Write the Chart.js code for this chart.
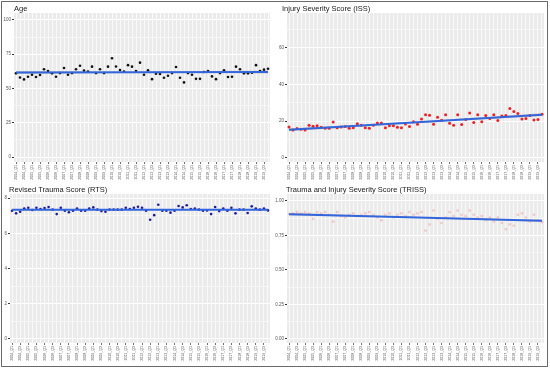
<!DOCTYPE html>
<html>
<head>
<meta charset="utf-8">
<script src="https://cdn.jsdelivr.net/npm/chart.js@4.4.1/dist/chart.umd.min.js"></script>
<style>
  body { margin: 0; background: #fff; }
  #wrap { position: relative; width: 550px; height: 369px; }
  #frame { position: absolute; left: 1px; top: 1px; width: 545px; height: 364px; border: 1.5px solid #6a6a6a; }
  .panel { position: absolute; }
</style>
</head>
<body>
<div id="wrap">
  <div class="panel" style="left:0;top:0;width:275px;height:185px"><canvas id="ageChart"></canvas></div>
  <div class="panel" style="left:275px;top:0;width:275px;height:185px"><canvas id="issChart"></canvas></div>
  <div class="panel" style="left:0;top:185px;width:275px;height:184px"><canvas id="rtsChart"></canvas></div>
  <div class="panel" style="left:275px;top:185px;width:275px;height:184px"><canvas id="trissChart"></canvas></div>
  <div id="frame"></div>
</div>
<script>
// quarters shown on the x axis (every other one is labelled)
const quarters = [
  '2004_Q1','2004_Q2','2004_Q3','2004_Q4','2005_Q1','2005_Q2','2005_Q3','2005_Q4',
  '2006_Q1','2006_Q2','2006_Q3','2006_Q4','2007_Q1','2007_Q2','2007_Q3','2007_Q4',
  '2008_Q1','2008_Q2','2008_Q3','2008_Q4','2009_Q1','2009_Q2','2009_Q3','2009_Q4',
  '2010_Q1','2010_Q2','2010_Q3','2010_Q4','2011_Q1','2011_Q2','2011_Q3','2011_Q4',
  '2012_Q1','2012_Q2','2012_Q3','2012_Q4','2013_Q1','2013_Q2','2013_Q3','2013_Q4',
  '2014_Q1','2014_Q2','2014_Q3','2014_Q4','2015_Q1','2015_Q2','2015_Q3','2015_Q4',
  '2016_Q1','2016_Q2','2016_Q3','2016_Q4','2017_Q1','2017_Q2','2017_Q3','2017_Q4',
  '2018_Q1','2018_Q2','2018_Q3','2018_Q4','2019_Q1','2019_Q2','2019_Q3','2019_Q4'
];

const ageValues = [
  61.0, 58.0, 56.6, 58.5, 60.0, 58.3, 59.8, 64.0, 62.7, 61.0, 58.5, 61.2, 64.9, 60.0, 61.2, 64.0,
  66.6, 63.0, 62.4, 65.9, 61.2, 64.0, 61.2, 65.9, 72.0, 66.0, 63.4, 62.4, 67.0, 65.9, 62.7, 68.8,
  60.0, 63.2, 56.8, 60.7, 60.5, 57.8, 59.3, 61.2, 65.6, 57.8, 54.4, 61.2, 60.0, 57.0, 57.0, 62.0,
  62.7, 58.8, 56.8, 61.2, 63.2, 58.3, 58.5, 65.9, 64.0, 61.0, 61.0, 61.5, 67.0, 62.7, 63.7, 64.4
];
const issValues = [
  16.9, 15.3, 16.0, 15.6, 15.3, 17.8, 17.3, 17.6, 16.8, 16.2, 16.2, 19.6, 16.5, 16.9, 17.2, 16.2,
  16.4, 18.7, 17.8, 16.5, 16.2, 17.8, 19.1, 19.1, 16.5, 17.5, 17.5, 16.7, 16.5, 18.5, 17.1, 19.8,
  18.4, 21.3, 23.5, 23.3, 18.4, 22.2, 20.5, 23.6, 18.9, 17.8, 23.6, 18.2, 21.0, 24.5, 19.3, 23.5,
  19.8, 23.1, 21.5, 23.5, 20.4, 22.9, 23.1, 26.9, 25.3, 24.2, 21.3, 21.5, 23.1, 20.7, 20.9, 23.8
];
const rtsValues = [
  7.28, 7.13, 7.22, 7.41, 7.45, 7.32, 7.45, 7.38, 7.43, 7.49, 7.34, 7.09, 7.45, 7.28, 7.19, 7.28,
  7.40, 7.28, 7.28, 7.40, 7.47, 7.34, 7.26, 7.22, 7.34, 7.34, 7.34, 7.34, 7.45, 7.38, 7.45, 7.51,
  7.45, 7.28, 6.77, 7.03, 7.62, 7.28, 7.28, 7.17, 7.28, 7.55, 7.47, 7.59, 7.38, 7.41, 7.34, 7.28,
  7.30, 7.09, 7.49, 7.26, 7.41, 7.28, 7.45, 7.13, 7.34, 7.34, 7.15, 7.53, 7.41, 7.34, 7.40, 7.30
];
const trissValues = [
  0.905, 0.91, 0.92, 0.91, 0.92, 0.91, 0.87, 0.92, 0.91, 0.92, 0.90, 0.85, 0.92, 0.89, 0.88, 0.90,
  0.91, 0.89, 0.90, 0.91, 0.92, 0.90, 0.88, 0.86, 0.90, 0.91, 0.88, 0.90, 0.91, 0.89, 0.92, 0.90,
  0.91, 0.92, 0.785, 0.83, 0.93, 0.87, 0.84, 0.88, 0.92, 0.89, 0.93, 0.90, 0.89, 0.93, 0.90, 0.88,
  0.89, 0.86, 0.88, 0.85, 0.88, 0.84, 0.795, 0.83, 0.82, 0.90, 0.91, 0.88, 0.85, 0.90, 0.86, 0.845
];

// fitted trend read at first, middle and last quarter, with band edges
const ageTrend = [61.6, 61.8, 62.0];
const ageBand = [1.1, 0.6, 1.1];
const issTrend = [15.4, 19.5, 23.6];
const issBand = [0.7, 0.4, 0.7];
const rtsTrend = [7.34, 7.34, 7.34];
const rtsBand = [0.04, 0.02, 0.04];
const trissTrend = [0.904, 0.88, 0.856];
const trissBand = [0.008, 0.004, 0.008];

const FONT = "'Liberation Sans', Arial, sans-serif";

// grey panel background like ggplot
const panelBg = {
  id: 'panelBg',
  beforeDraw(chart) {
    const a = chart.chartArea;
    const ctx = chart.ctx;
    ctx.save();
    ctx.fillStyle = '#ebebeb';
    ctx.fillRect(a.left, a.top, a.right - a.left, a.bottom - a.top);
    ctx.restore();
  }
};

// facet title written above the panel
const panelTitle = {
  id: 'panelTitle',
  afterDraw(chart, args, opts) {
    const ctx = chart.ctx;
    ctx.save();
    ctx.font = '7.5px ' + FONT;
    ctx.fillStyle = '#1a1a1a';
    ctx.textBaseline = 'alphabetic';
    ctx.fillText(opts.text, chart.chartArea.left + (opts.dx || 0), chart.chartArea.top - 2.5);
    ctx.restore();
  }
};

function trendPoints(vals) {
  return [
    { x: quarters[0], y: vals[0] },
    { x: quarters[32], y: vals[1] },
    { x: quarters[63], y: vals[2] }
  ];
}

function makePanel(id, cfg) {
  const ctx = document.getElementById(id).getContext('2d');
  const upper = cfg.trend.map((v, i) => v + cfg.band[i]);
  const lower = cfg.trend.map((v, i) => v - cfg.band[i]);
  const isMajor = v => Math.abs(v / cfg.major - Math.round(v / cfg.major)) < 1e-6;

  new Chart(ctx, {
    type: 'line',
    data: {
      labels: quarters,
      datasets: [
        {
          data: cfg.values,
          showLine: false,
          pointRadius: cfg.radius,
          pointBackgroundColor: cfg.color,
          pointBorderWidth: 0,
          order: 1
        },
        {
          data: trendPoints(upper),
          pointRadius: 0,
          borderWidth: 0,
          tension: 0.4,
          order: 3
        },
        {
          data: trendPoints(lower),
          pointRadius: 0,
          borderWidth: 0,
          tension: 0.4,
          fill: '-1',
          backgroundColor: 'rgba(150,150,150,0.45)',
          order: 2
        },
        {
          data: trendPoints(cfg.trend),
          pointRadius: 0,
          borderColor: '#3366dd',
          borderWidth: 2,
          order: 0
        }
      ]
    },
    options: {
      responsive: true,
      maintainAspectRatio: false,
      animation: false,
      events: [],
      layout: {
        padding: { left: 0, right: cfg.padRight, top: cfg.padTop, bottom: cfg.padBottom }
      },
      plugins: {
        legend: { display: false },
        tooltip: { enabled: false },
        panelTitle: { text: cfg.title, dx: cfg.titleDx }
      },
      scales: {
        x: {
          offset: true,
          border: { display: false },
          grid: {
            offset: false,
            color: '#ffffff',
            lineWidth: 0.7,
            tickLength: 2,
            tickColor: c => (c.index % 2 === 0 ? '#333333' : 'rgba(0,0,0,0)')
          },
          ticks: {
            autoSkip: false,
            minRotation: 90,
            maxRotation: 90,
            padding: 1,
            color: '#555555',
            font: { family: FONT, size: 3.6 },
            callback: function(value, index) {
              return index % 2 === 0 ? this.getLabelForValue(value) : '';
            }
          },
          afterFit: s => { s.height = cfg.xHeight; }
        },
        y: {
          min: cfg.min,
          max: cfg.max,
          border: { display: false },
          grid: {
            color: '#ffffff',
            lineWidth: c => (isMajor(c.tick.value) ? 1 : 0.5),
            tickLength: 2,
            tickColor: c => (isMajor(c.tick.value) ? '#333333' : 'rgba(0,0,0,0)')
          },
          ticks: {
            stepSize: cfg.major / 2,
            includeBounds: false,
            padding: 1,
            color: '#555555',
            font: { family: FONT, size: 4.5 },
            callback: v => (isMajor(v) ? v.toFixed(cfg.decimals) : '')
          },
          afterFit: s => { s.width = cfg.yWidth; }
        }
      }
    },
    plugins: [panelBg, panelTitle]
  });
}

document.addEventListener('DOMContentLoaded', function() {
  // Age
  makePanel('ageChart', {
    title: 'Age', titleDx: 0,
    values: ageValues, trend: ageTrend, band: ageBand,
    color: '#111111', radius: 1.3,
    min: -3.6, max: 105, major: 25, decimals: 0,
    yWidth: 14, padRight: 5, padTop: 13, padBottom: 0, xHeight: 23
  });

  // Injury Severity Score
  makePanel('issChart', {
    title: 'Injury Severity Score (ISS)', titleDx: -5,
    values: issValues, trend: issTrend, band: issBand,
    color: '#e8232a', radius: 1.5,
    min: -2.2, max: 79, major: 20, decimals: 0,
    yWidth: 12, padRight: 6, padTop: 13, padBottom: 0, xHeight: 23
  });

  // Revised Trauma Score
  makePanel('rtsChart', {
    title: 'Revised Trauma Score (RTS)', titleDx: -1,
    values: rtsValues, trend: rtsTrend, band: rtsBand,
    color: '#1c1c8e', radius: 1.3,
    min: -0.23, max: 8.23, major: 2, decimals: 0,
    yWidth: 10, padRight: 5, padTop: 9, padBottom: 3, xHeight: 23
  });

  // Trauma and Injury Severity Score
  makePanel('trissChart', {
    title: 'Trauma and Injury Severity Score (TRISS)', titleDx: -1,
    values: trissValues, trend: trissTrend, band: trissBand,
    color: 'rgba(235,120,120,0.35)', radius: 1.3,
    min: -0.029, max: 1.05, major: 0.25, decimals: 2,
    yWidth: 12, padRight: 6, padTop: 9, padBottom: 3, xHeight: 23
  });
});
</script>
</body>
</html>
